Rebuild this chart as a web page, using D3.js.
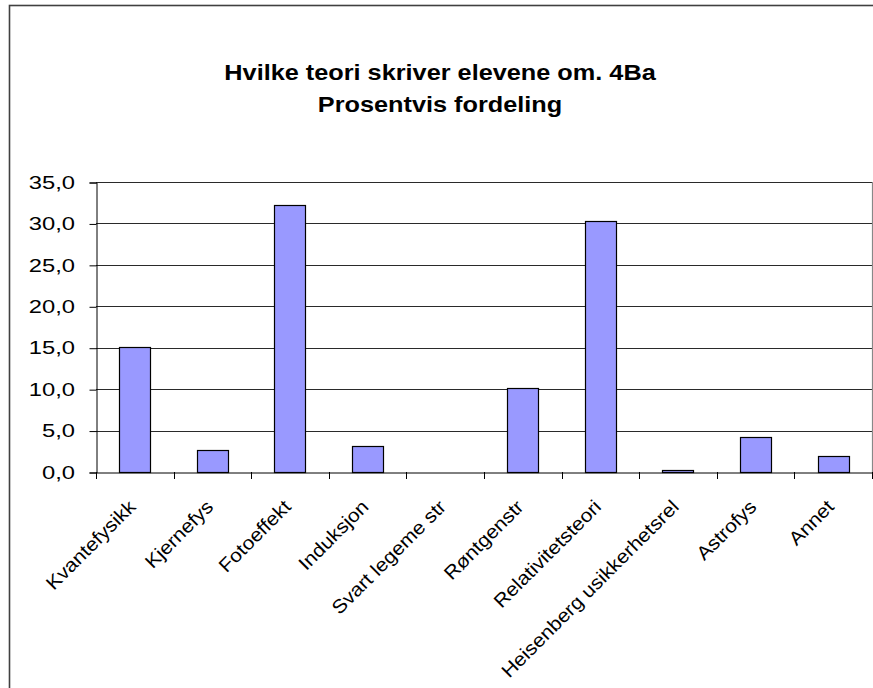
<!DOCTYPE html>
<html><head><meta charset="utf-8">
<script src="https://cdn.jsdelivr.net/npm/d3@7"></script>
<style>body{margin:0;background:#fff;}svg{display:block;font-family:Arial,"Liberation Sans",sans-serif;}</style>
</head><body>
<script>
const categories = ["Kvantefysikk","Kjernefys","Fotoeffekt","Induksjon","Svart legeme str","Røntgenstr","Relativitetsteori","Heisenberg usikkerhetsrel","Astrofys","Annet"];
const values = [15.1, 2.7, 32.2, 3.1, 0.0, 10.1, 30.3, 0.3, 4.2, 1.9];
const yTicks = [0, 5, 10, 15, 20, 25, 30, 35];
const titleLines = ["Hvilke teori skriver elevene om. 4Ba", "Prosentvis fordeling"];

(function () {
const W = 873, H = 688;
const svg = d3.select("body").append("svg").attr("width", W).attr("height", H);

// outer chart frame (extends past the window on right and bottom)
svg.append("rect").attr("x", 9.5).attr("y", 5.5).attr("width", 900).attr("height", 720)
  .attr("fill", "#fff").attr("stroke", "#404040").attr("stroke-width", 1.6);

const pL = 96, pR = 872, pT = 182, pB = 472;
const x = d3.scaleBand().domain(categories).range([pL, pR]).paddingInner(0.6).paddingOuter(0.3);
const xb = d3.scaleBand().domain(categories).range([pL, pR]);
const y = d3.scaleLinear().domain([0, 35]).range([pB, pT]);

// title
const t = svg.append("g");
titleLines.forEach((s, i) => {
  t.append("g").attr("transform", `translate(440,${80 + i * 32}) scale(1.15,1)`)
   .append("text").attr("text-anchor", "middle").attr("font-weight", "bold")
   .attr("font-size", 22).attr("fill", "#000").text(s);
});

// gridlines
svg.append("g").selectAll("line").data(yTicks.filter(d => d > 0)).join("line")
  .attr("x1", pL).attr("x2", pR)
  .attr("y1", d => Math.round(y(d)) + 0.5).attr("y2", d => Math.round(y(d)) + 0.5)
  .attr("stroke", "#2a2a2a").attr("stroke-width", 1);

// right plot border
svg.append("line").attr("x1", pR + 0.5).attr("x2", pR + 0.5).attr("y1", pT).attr("y2", pB)
  .attr("stroke", "#888").attr("stroke-width", 1.2);

// bars
svg.append("g").selectAll("rect").data(categories).join("rect")
  .attr("x", d => Math.round(x(d)) + 0.5)
  .attr("width", Math.round(x.bandwidth()))
  .attr("y", (d, i) => Math.round(y(values[i])) + 0.5)
  .attr("height", (d, i) => Math.max(0, Math.round(y(0)) - Math.round(y(values[i]))))
  .attr("fill", "#9999FF").attr("stroke", "#000").attr("stroke-width", 1.2);

// y axis
const yAxis = d3.axisLeft(y).tickValues(yTicks).tickSize(7).tickFormat("");
const ya = svg.append("g").attr("transform", `translate(${pL + 0.5},0.5)`).call(yAxis);
ya.select(".domain").attr("stroke", "#000");
ya.selectAll(".tick line").attr("stroke", "#000");
svg.append("g").selectAll("g").data(yTicks).join("g")
  .attr("transform", d => `translate(75,${y(d)}) scale(1.25,1)`)
  .append("text").attr("text-anchor", "end").attr("dy", "0.35em")
  .attr("font-size", 19).attr("fill", "#000")
  .text(d => d3.format(".1f")(d).replace(".", ","));

// x axis
const xAxis = d3.axisBottom(xb).tickSize(0).tickFormat("");
const xa = svg.append("g").attr("transform", `translate(0,${pB + 0.5})`).call(xAxis);
xa.select(".domain").attr("stroke", "#000");
xa.selectAll(".tick").remove();
const bounds = categories.map(c => xb(c)).concat([pR]);
svg.append("g").selectAll("line").data(bounds).join("line")
  .attr("x1", d => Math.round(d) + 0.5).attr("x2", d => Math.round(d) + 0.5)
  .attr("y1", pB).attr("y2", pB + 7).attr("stroke", "#000");

svg.append("g").selectAll("g").data(categories).join("g")
  .attr("transform", d => `translate(${xb(d) + xb.bandwidth() / 2 + 2},${pB + 36}) rotate(-45) scale(1.1,1)`)
  .append("text").attr("text-anchor", "end").attr("font-size", 19).attr("fill", "#000")
  .text(d => d);
})();
</script>
</body></html>
